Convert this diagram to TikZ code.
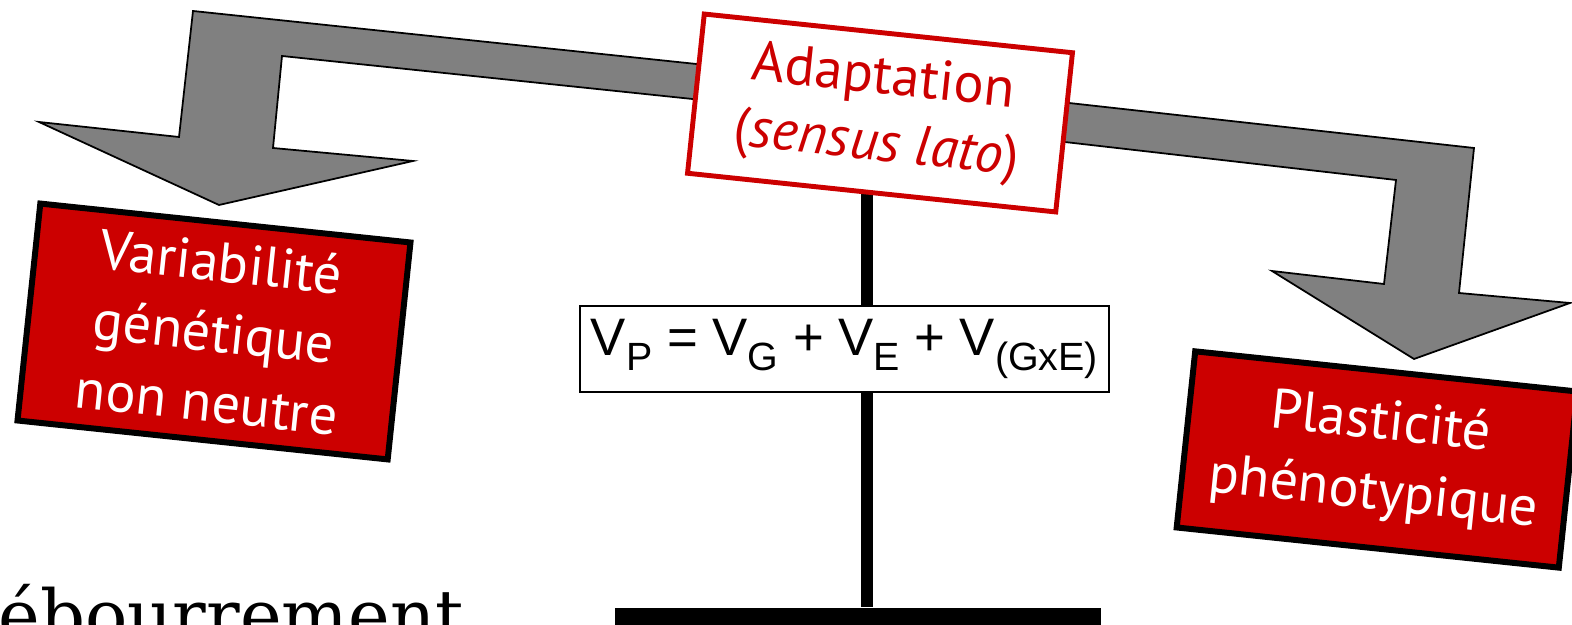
\documentclass[tikz,border=0pt]{standalone}
\usepackage{fontspec}
\newfontfamily\boxfont{PT Sans}
\newfontfamily\eqfont{Liberation Sans}
\newfontfamily\titlefont{DejaVu Serif}
\usetikzlibrary{positioning,backgrounds}
\definecolor{boxred}{RGB}{204,0,0}
\definecolor{arrowgray}{RGB}{128,128,128}
% lowered index for the variance formula
\newcommand{\vsub}[1]{\raisebox{-0.3em}{\fontsize{11.2}{11.2}\selectfont #1}}

\begin{document}
\begin{tikzpicture}[x=0.01cm,y=-0.01cm,
  redbox/.style={draw=black,line width=1.7pt,fill=boxred,text=white,align=center,
    rotate=-6,inner sep=0pt,font=\boxfont\fontsize{16}{20}\selectfont},
  bentarrow/.style={draw=black,line width=0.5pt,fill=arrowgray},
  pole/.style={line width=3.4pt}]
\useasboundingbox (0,0) rectangle (1572,625);
% title, cut by the frame
\node[anchor=base west,inner sep=0pt,font=\titlefont\fontsize{20}{20}\selectfont] (title) at (-2,641) {ébourrement};
% balance
\node[fill=black,inner sep=0pt,minimum width=4.86cm,minimum height=0.4cm] (base) at (858,628) {};
\node[draw=boxred,line width=1.4pt,fill=white,text=boxred,align=center,rotate=-6,inner sep=0pt,
  minimum width=3.70cm,minimum height=1.60cm,font=\boxfont\fontsize{16}{19}\selectfont]
  (adapt) at (880,113) {Adaptation\\(\textit{sensus lato})};
\node[draw,line width=0.6pt,fill=white,inner sep=0pt,minimum width=5.29cm,minimum height=0.86cm,
  font=\eqfont\fontsize{15}{18}\selectfont]
  (vp) at (844.5,349) {V\vsub{P} = V\vsub{G} + V\vsub{E} + V\vsub{(GxE)}};
% the two sides
\node[redbox,minimum width=3.72cm,minimum height=2.18cm] (genet) at (214,331.5) {Variabilité\\génétique\\non neutre};
\node[redbox,minimum width=3.84cm,minimum height=1.77cm] (plast) at (1377,459.5) {Plasticité\\phénotypique};
\coordinate (poletop) at (867,180);
\begin{scope}[on background layer]
\draw[pole] (poletop) -- (poletop |- base.north);
% block arrows
\draw[bentarrow] (193,11) -- (706,65) -- (702,100) -- (282,56) -- (273,148) -- (413,161)
  -- (219,205) -- (39,122) -- (179,137) -- cycle;
\draw[bentarrow] (1060,102) -- (1474,148) -- (1459,293) -- (1570,303) -- (1414,359)
  -- (1272,271) -- (1384,284) -- (1396,180) -- (1056,141) -- cycle;
\end{scope}
\end{tikzpicture}
\end{document}
